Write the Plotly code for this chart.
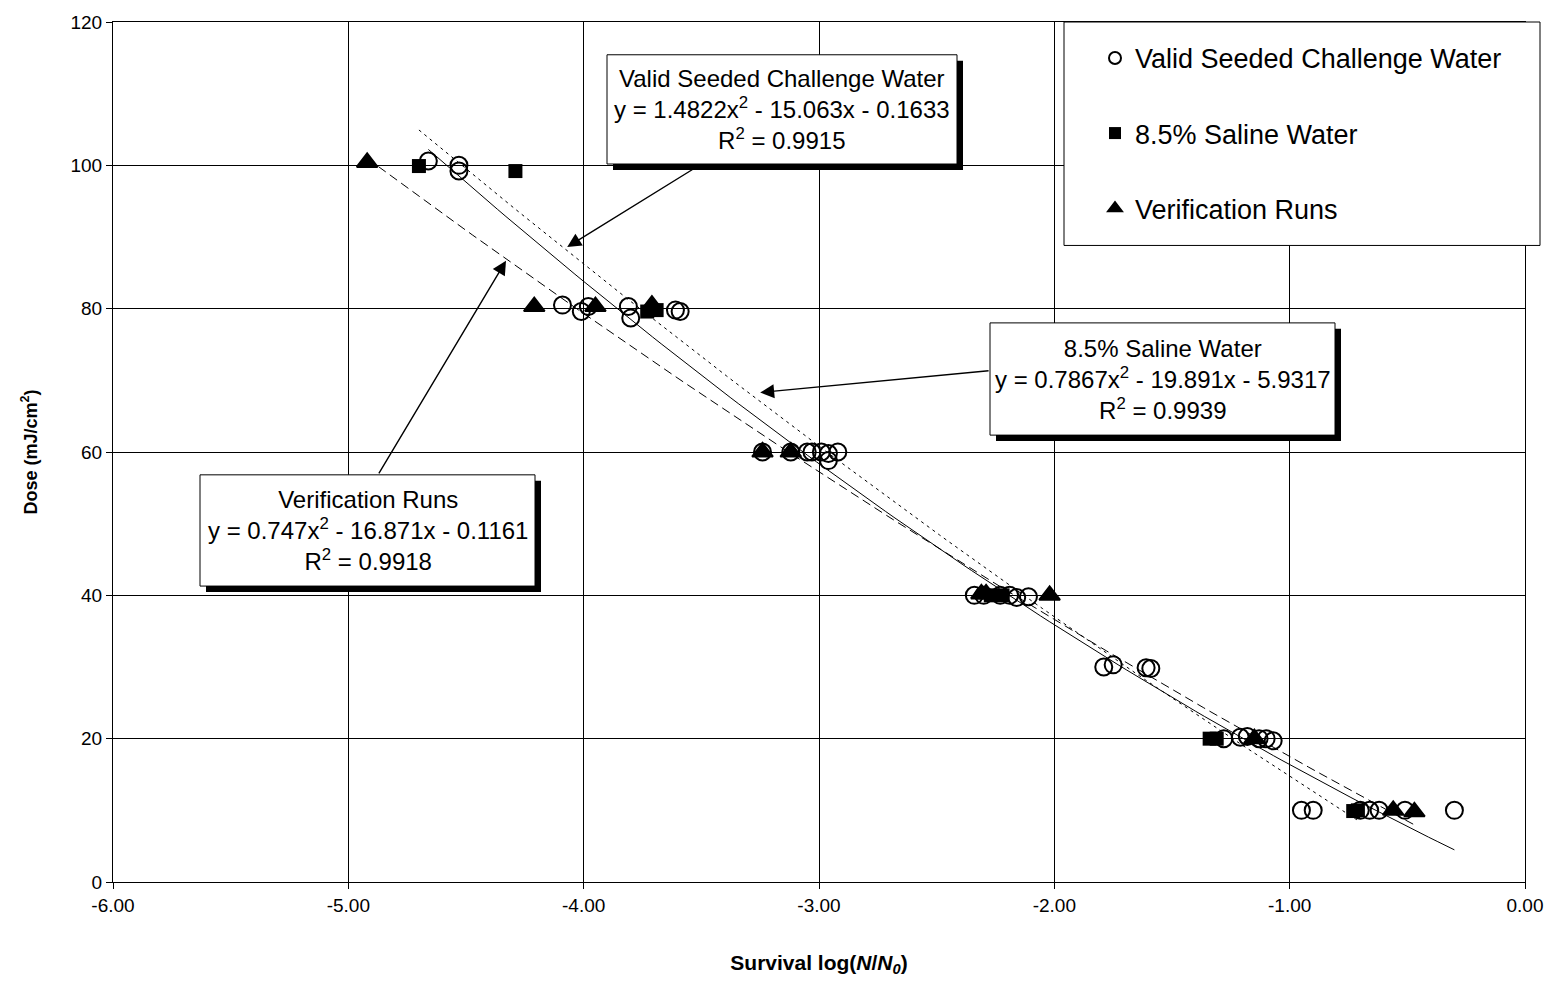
import numpy as np
import plotly.graph_objects as go

# ---------------- data ----------------
valid_x = [-4.66, -4.53, -4.53,
           -4.09, -4.01, -3.98, -3.81, -3.80, -3.61, -3.59,
           -3.24, -3.12, -3.05, -3.03, -2.99, -2.96, -2.96, -2.92,
           -2.34, -2.30, -2.23, -2.19, -2.16, -2.11,
           -1.79, -1.75, -1.61, -1.59,
           -1.28, -1.21, -1.18, -1.13, -1.10, -1.07,
           -0.95, -0.90, -0.70, -0.66, -0.62, -0.51, -0.30]
valid_y = [100.6, 100.0, 99.2,
           80.5, 79.6, 80.3, 80.3, 78.7, 79.8, 79.6,
           60.0, 60.0, 60.0, 60.0, 60.0, 59.8, 58.8, 60.0,
           40.0, 40.0, 40.0, 40.0, 39.7, 39.8,
           30.0, 30.3, 29.9, 29.8,
           20.0, 20.2, 20.3, 20.0, 20.0, 19.7,
           10.0, 10.0, 10.0, 10.0, 10.0, 10.0, 10.0]

saline_x = [-4.70, -4.29, -3.73, -3.69, -2.27, -2.22, -1.34, -1.31, -0.73, -0.71]
saline_y = [99.9, 99.2, 79.6, 79.8, 40.0, 40.0, 20.0, 20.0, 9.9, 10.0]

verif_x = [-4.92, -4.21, -3.95, -3.71, -3.24, -3.12, -2.31, -2.29, -2.02, -1.15, -0.56, -0.47]
verif_y = [100.4, 80.3, 80.3, 80.5, 60.0, 60.0, 40.2, 40.2, 40.0, 20.0, 10.0, 9.8]

series_names = ["Valid Seeded Challenge Water", "8.5% Saline Water", "Verification Runs"]

# quadratic trendline coefficients (a, b, c) and R^2, as printed on the chart
fit_valid = [1.4822, -15.063, -0.1633]
fit_saline = [0.7867, -19.891, -5.9317]
fit_verif = [0.747, -16.871, -0.1161]
r2_values = ["0.9915", "0.9939", "0.9918"]

x_tickvals = [-6, -5, -4, -3, -2, -1, 0]
x_ticktext = ["-6.00", "-5.00", "-4.00", "-3.00", "-2.00", "-1.00", "0.00"]
y_tickvals = [0, 20, 40, 60, 80, 100, 120]
y_ticktext = ["0", "20", "40", "60", "80", "100", "120"]

# ---------------- layout helpers ----------------
W, H = 1555, 982
ML, MR, MT, MB = 113, 30, 22, 94
PW, PH = W - ML - MR, H - MT - MB
FONT = "Liberation Sans, Arial, sans-serif"


def px(xp):
    return (xp - ML) / PW


def py(yp):
    return (H - MB - yp) / PH


def trend(coef, xs):
    t = np.linspace(min(xs), max(xs), 120)
    return t, coef[0] * t ** 2 + coef[1] * t + coef[2]


def eq_text(coef):
    a, b, c = coef
    sb = "-" if b < 0 else "+"
    sc = "-" if c < 0 else "+"
    return f"y = {a}x<sup>2</sup> {sb} {abs(b)}x {sc} {abs(c)}"


fig = go.Figure()

# trendlines
line_styles = ["solid", "3px,4px", "9px,5px"]
for coef, xs, dash in zip([fit_valid, fit_saline, fit_verif],
                          [valid_x, saline_x, verif_x], line_styles):
    tx, ty = trend(coef, xs)
    fig.add_trace(go.Scatter(x=tx, y=ty, mode="lines", showlegend=False,
                             hoverinfo="skip",
                             line=dict(color="black", width=1, dash=dash)))

# data series
fig.add_trace(go.Scatter(x=valid_x, y=valid_y, mode="markers", name=series_names[0],
                         legendgroup="a",
                         marker=dict(symbol="circle-open", size=17, color="black",
                                     line=dict(width=2, color="black"))))
fig.add_trace(go.Scatter(x=saline_x, y=saline_y, mode="markers", name=series_names[1],
                         legendgroup="b",
                         marker=dict(symbol="square", size=14, color="black")))
fig.add_trace(go.Scatter(x=verif_x, y=verif_y, mode="markers", name=series_names[2],
                         legendgroup="c",
                         marker=dict(symbol="triangle-up", size=18, color="black",
                                     line=dict(width=2, color="black"))))

shapes = []
annotations = []

# legend box
shapes.append(dict(type="rect", xref="paper", yref="paper",
                   x0=px(1064), x1=px(1540), y0=py(247), y1=py(22),
                   fillcolor="white", line=dict(color="black", width=1), layer="above"))

# equation boxes: (left, top, right, bottom) in pixels
boxes = [(607, 55, 957, 165), (990, 325, 1335, 438), (200, 478, 535, 590)]
coefs = [fit_valid, fit_saline, fit_verif]
SH = 6
for (l, t, r, b), coef, name, r2 in zip(boxes, coefs, series_names, r2_values):
    shapes.append(dict(type="rect", xref="paper", yref="paper",
                       x0=px(l + SH), x1=px(r + SH), y0=py(b + SH), y1=py(t + SH),
                       fillcolor="black", line=dict(width=0), layer="above"))
    shapes.append(dict(type="rect", xref="paper", yref="paper",
                       x0=px(l), x1=px(r), y0=py(b), y1=py(t),
                       fillcolor="white", line=dict(color="black", width=1), layer="above"))
    annotations.append(dict(xref="paper", yref="paper",
                            x=px((l + r) / 2), y=py((t + b) / 2),
                            xanchor="center", yanchor="middle", showarrow=False,
                            text=f"{name}<br>{eq_text(coef)}<br>R<sup>2</sup> = {r2}",
                            align="center",
                            font=dict(family=FONT, size=24, color="black")))

# arrows: (tail x, tail y, head x, head y) in data units
arrows = [(-3.514, 99.9, -4.07, 88.6),
          (-2.273, 71.36, -3.25, 68.3),
          (-4.874, 56.8, -4.33, 86.7)]
for tx_, ty_, hx, hy in arrows:
    annotations.append(dict(x=hx, y=hy, ax=tx_, ay=ty_, xref="x", yref="y",
                            axref="x", ayref="y", text="", showarrow=True,
                            arrowhead=2, arrowsize=2, arrowwidth=1.4,
                            arrowcolor="black", standoff=0, startstandoff=0))

fig.update_layout(
    width=W, height=H,
    margin=dict(l=ML, r=MR, t=MT, b=MB, pad=0),
    paper_bgcolor="white", plot_bgcolor="white",
    font=dict(family=FONT, size=19, color="black"),
    shapes=shapes, annotations=annotations,
    showlegend=True,
    legend=dict(x=px(1095), y=py(34), xanchor="left", yanchor="top",
                bgcolor="rgba(0,0,0,0)", borderwidth=0,
                font=dict(family=FONT, size=27, color="black"),
                tracegroupgap=37, itemwidth=30, itemsizing="constant"),
    xaxis=dict(range=[-6, 0], tickvals=x_tickvals, ticktext=x_ticktext,
               showgrid=True, gridcolor="black", gridwidth=1,
               zeroline=False, showline=True, linecolor="black", linewidth=1,
               mirror=True, ticks="outside", ticklen=6, tickcolor="black",
               tickfont=dict(size=19),
               title=dict(text="<b>Survival log(<i>N</i>/<i>N</i><sub><i>0</i></sub>)</b>",
                          font=dict(size=21), standoff=40)),
    yaxis=dict(range=[0, 120], tickvals=y_tickvals, ticktext=y_ticktext,
               showgrid=True, gridcolor="black", gridwidth=1,
               zeroline=False, showline=True, linecolor="black", linewidth=1,
               mirror=True, ticks="outside", ticklen=6, tickcolor="black",
               tickfont=dict(size=19),
               title=dict(text="<b>Dose (mJ/cm<sup>2</sup>)</b>",
                          font=dict(size=18), standoff=28)),
)

fig.write_html("out.html")
